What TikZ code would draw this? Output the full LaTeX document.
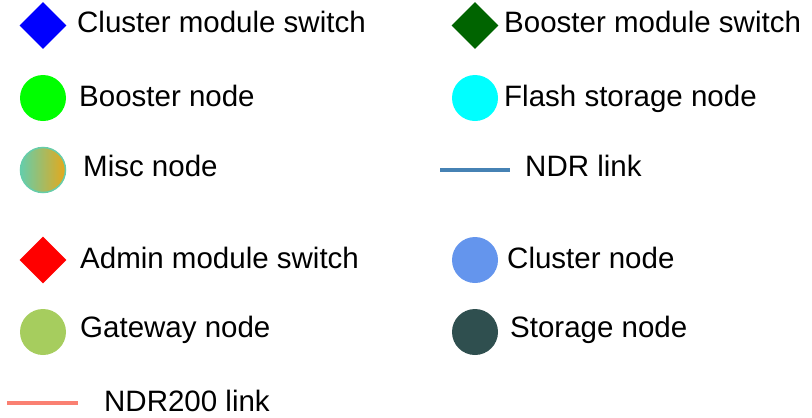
\documentclass[tikz,border=0pt]{standalone}
\usepackage{fontspec}
\setmainfont{Liberation Sans}
\usetikzlibrary{shapes.geometric}
\definecolor{clusterswitch}{RGB}{0,0,255}
\definecolor{boosterswitch}{RGB}{0,100,0}
\definecolor{adminswitch}{RGB}{255,0,0}
\definecolor{boosternode}{RGB}{0,255,0}
\definecolor{flashnode}{RGB}{0,255,255}
\definecolor{clusternode}{RGB}{100,149,237}
\definecolor{storagenode}{RGB}{47,79,79}
\definecolor{gatewaynode}{RGB}{166,205,94}
\definecolor{misca}{RGB}{102,205,170}
\definecolor{miscb}{RGB}{230,168,26}
\definecolor{ndr}{RGB}{70,130,180}
\definecolor{ndrtwo}{RGB}{250,128,114}
\tikzset{
  switchmark/.style={diamond, aspect=1, inner sep=0pt, minimum width=47pt, minimum height=47pt, draw=none, fill=#1},
  nodemark/.style={circle, inner sep=0pt, minimum size=46pt, draw=none, fill=#1},
  label text/.style={anchor=base west, inner sep=0pt, font=\fontsize{29.5}{35}\selectfont},
  linkline/.style={line width=4pt, draw=#1},
}
\begin{document}
\begin{tikzpicture}[x=1pt, y=-1pt]
  \useasboundingbox (0,0) rectangle (812,418);
  % left column
  \node[switchmark=clusterswitch] (csw) at (43,25.5) {};
  \node[label text] (cswt) at (77,32) {Cluster module switch};
  \node[nodemark=boosternode] (bn) at (43,98) {};
  \node[label text] (bnt) at (79,106) {Booster node};
  \node[circle, inner sep=0pt, minimum size=45pt, draw=misca, line width=1.5pt,
        left color=misca, right color=miscb] (misc) at (43,170) {};
  \node[label text] (misct) at (83,176) {Misc node};
  \node[switchmark=adminswitch] (asw) at (43,260) {};
  \node[label text] (aswt) at (80,268) {Admin module switch};
  \node[nodemark=gatewaynode] (gw) at (43,332) {};
  \node[label text] (gwt) at (80,337) {Gateway node};
  \coordinate (ndrtwoA) at (7,403);
  \coordinate (ndrtwoB) at (78,403);
  \draw[linkline=ndrtwo] (ndrtwoA) -- (ndrtwoB);
  \node[label text] (ndrtwot) at (104,411) {NDR200 link};
  % right column
  \node[switchmark=boosterswitch] (bsw) at (475,25.5) {};
  \node[label text] (bswt) at (504,32) {Booster module switch};
  \node[nodemark=flashnode] (fn) at (475,98) {};
  \node[label text] (fnt) at (504,106) {Flash storage node};
  \coordinate (ndrA) at (440,170);
  \coordinate (ndrB) at (510,170);
  \draw[linkline=ndr] (ndrA) -- (ndrB);
  \node[label text] (ndrt) at (525,176) {NDR link};
  \node[nodemark=clusternode] (cn) at (475,260) {};
  \node[label text] (cnt) at (507,268) {Cluster node};
  \node[nodemark=storagenode] (sn) at (475,332) {};
  \node[label text] (snt) at (510,337) {Storage node};
\end{tikzpicture}
\end{document}
